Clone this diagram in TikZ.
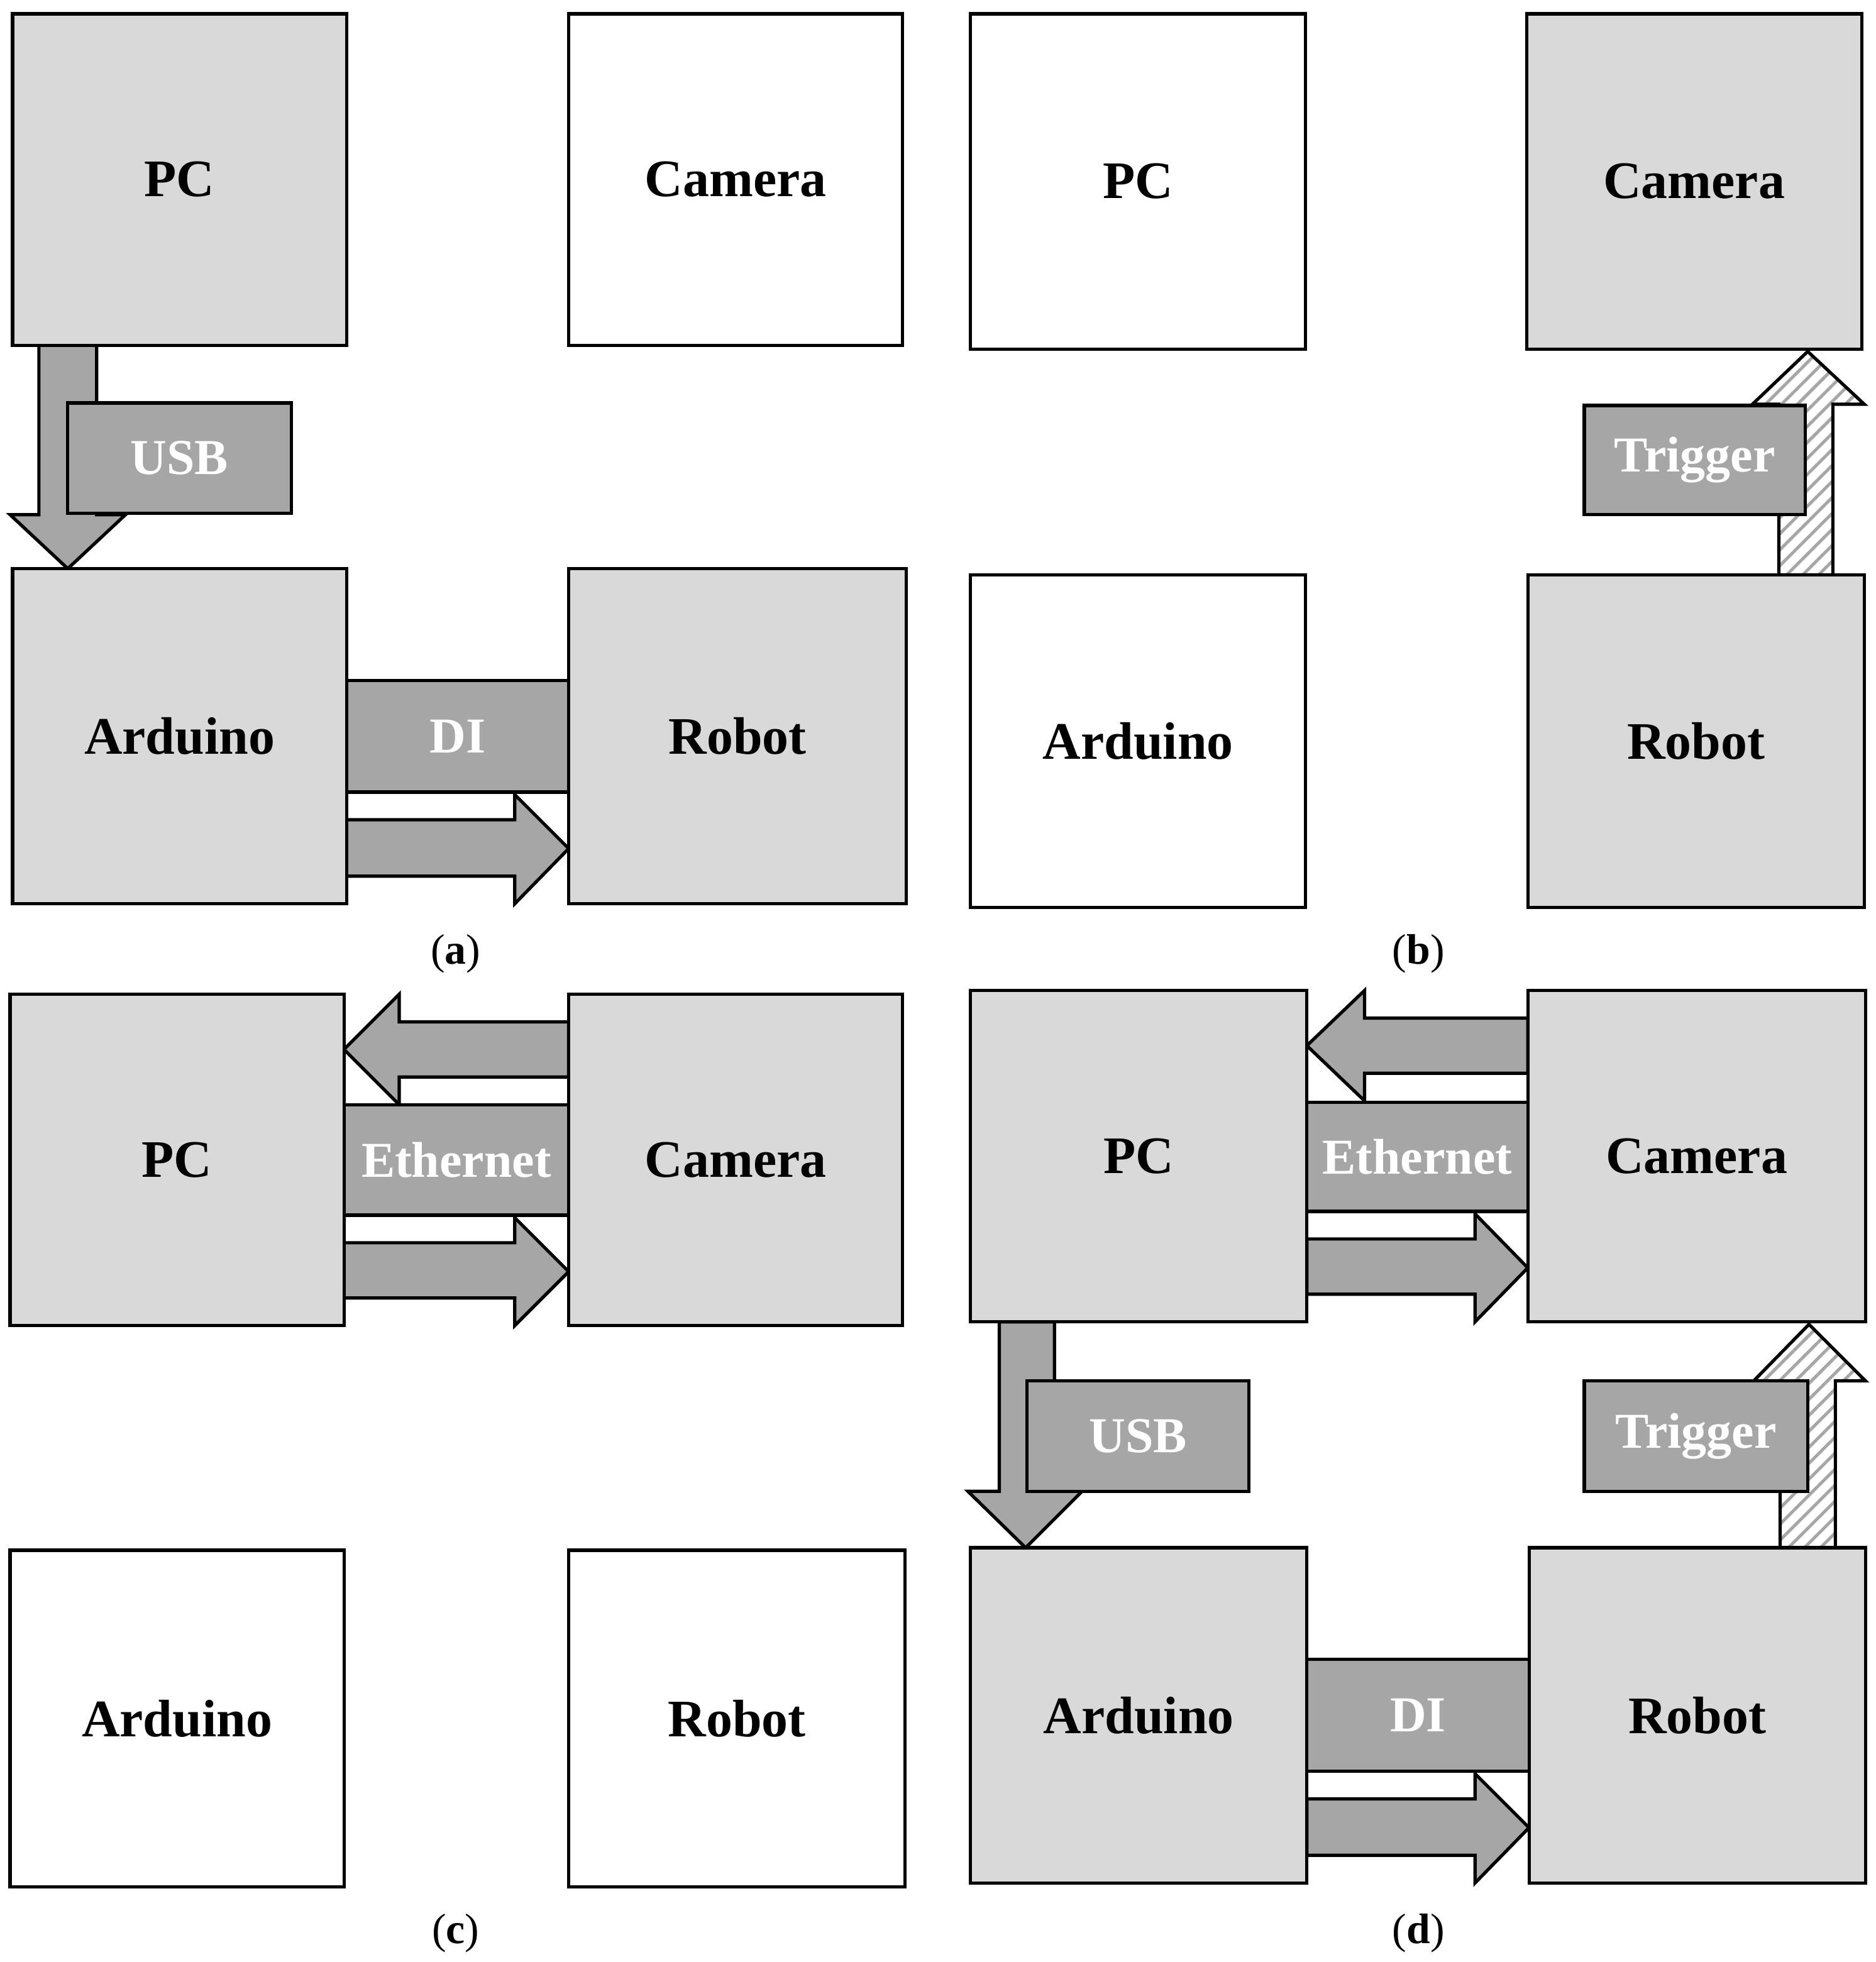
\documentclass[tikz,border=0pt]{standalone}
\usepackage{fontspec}
\setmainfont{Liberation Serif}
\usetikzlibrary{patterns,patterns.meta}
\definecolor{lg}{HTML}{D9D9D9}
\definecolor{dg}{HTML}{A6A6A6}
\tikzset{
  box/.style={draw=black,line width=2.6pt},
  lbl/.style={font=\fontsize{42}{46}\selectfont\bfseries,text=black},
  wl/.style={font=\fontsize{40}{44}\selectfont\bfseries,text=white},
  arr/.style={draw=black,line width=2.6pt,fill=dg,line join=miter},
  hatch/.style={draw=black,line width=2.6pt,pattern={Lines[angle=45,distance=9pt,line width=2.5pt]},pattern color=dg},
  captxt/.style={font=\fontsize{34}{38}\selectfont}
}
\newcommand{\bx}[6]{\draw[box,fill=#5] (#1,#2) rectangle (#3,#4) node[midway,lbl]{#6};}
\newcommand{\wb}[5]{\draw[box,fill=dg] (#1,#2) rectangle (#3,#4) node[midway,wl]{#5};}
\begin{document}
\begin{tikzpicture}[x=1pt,y=-1pt]
\useasboundingbox[fill=white] (0,0) rectangle (1494,1563);
% ---------- (a)
\draw[arr] (31,275)--(31,410)--(8,410)--(54,453)--(100,410)--(77,410)--(77,275)--cycle;
\draw[arr] (276,653)--(410,653)--(410,633)--(453,676)--(410,720)--(410,698)--(276,698)--cycle;
\bx{10}{11}{276}{275}{lg}{PC}
\bx{453}{11}{719}{275}{white}{Camera}
\bx{10}{453}{276}{720}{lg}{Arduino}
\bx{453}{453}{722}{720}{lg}{Robot}
\wb{54}{321}{232}{409}{USB}
\wb{276}{542}{453}{631}{DI}
\node[captxt] (ca) at (363,760) {(\textbf{a})};
% ---------- (b)
\draw[hatch] (1417,458)--(1417,322)--(1396,322)--(1440,280)--(1485,322)--(1460,322)--(1460,458)--cycle;
\bx{773}{11}{1040}{278}{white}{PC}
\bx{1216}{11}{1483}{278}{lg}{Camera}
\bx{773}{458}{1040}{723}{white}{Arduino}
\bx{1217}{458}{1485}{723}{lg}{Robot}
\wb{1262}{323}{1438}{410}{Trigger}
\node[captxt] (cb) at (1130,760) {(\textbf{b})};
% ---------- (c)
\draw[arr] (453,814)--(318,814)--(318,792)--(274,836)--(318,880)--(318,858)--(453,858)--cycle;
\draw[arr] (274,990)--(410,990)--(410,970)--(453,1013)--(410,1056)--(410,1034)--(274,1034)--cycle;
\bx{8}{792}{274}{1056}{lg}{PC}
\bx{453}{792}{719}{1056}{lg}{Camera}
\bx{8}{1235}{274}{1503}{white}{Arduino}
\bx{453}{1235}{721}{1503}{white}{Robot}
\wb{274}{880}{453}{968}{Ethernet}
\node[captxt] (cc) at (363,1540) {(\textbf{c})};
% ---------- (d)
\draw[arr] (1217,811)--(1087,811)--(1087,789)--(1041,833)--(1087,877)--(1087,855)--(1217,855)--cycle;
\draw[arr] (1041,987)--(1175,987)--(1175,967)--(1217,1010)--(1175,1053)--(1175,1031)--(1041,1031)--cycle;
\draw[arr] (796,1053)--(796,1188)--(771,1188)--(817,1233)--(862,1188)--(840,1188)--(840,1053)--cycle;
\draw[hatch] (1418,1233)--(1418,1100)--(1397,1100)--(1441,1055)--(1486,1100)--(1462,1100)--(1462,1233)--cycle;
\draw[arr] (1041,1433)--(1175,1433)--(1175,1413)--(1218,1456)--(1175,1500)--(1175,1478)--(1041,1478)--cycle;
\bx{773}{789}{1041}{1053}{lg}{PC}
\bx{1217}{789}{1486}{1053}{lg}{Camera}
\bx{773}{1233}{1041}{1500}{lg}{Arduino}
\bx{1218}{1233}{1486}{1500}{lg}{Robot}
\wb{1041}{878}{1217}{965}{Ethernet}
\wb{818}{1100}{995}{1188}{USB}
\wb{1262}{1100}{1440}{1188}{Trigger}
\wb{1041}{1322}{1218}{1411}{DI}
\node[captxt] (cd) at (1130,1540) {(\textbf{d})};
\end{tikzpicture}
\end{document}
